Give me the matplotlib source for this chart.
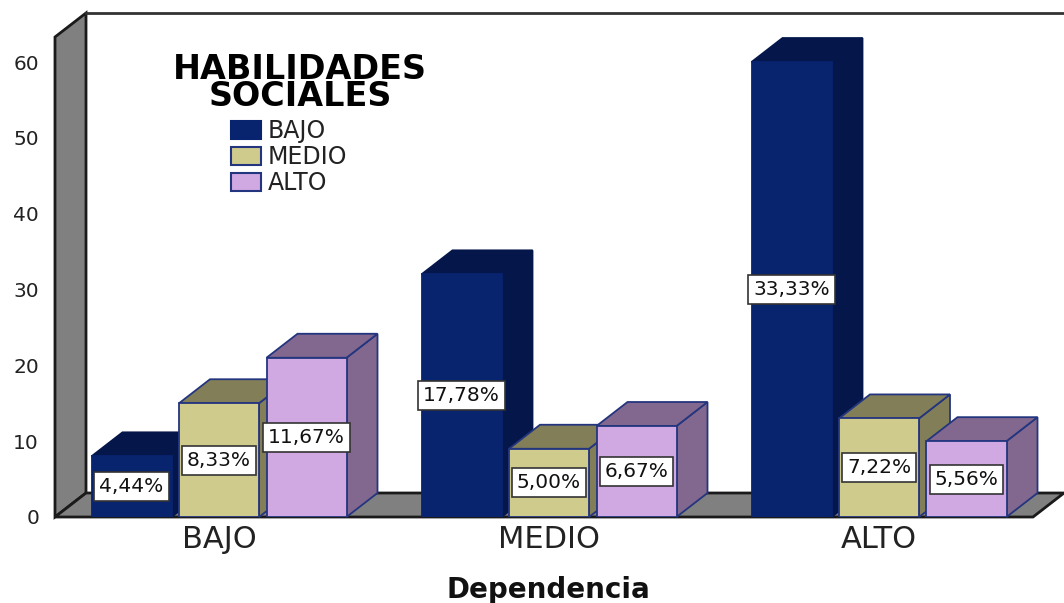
"""Recreate the SPSS style pseudo-3D clustered bar chart."""

import matplotlib
matplotlib.use("Agg")
import matplotlib.pyplot as plt
from matplotlib.patches import Patch, Polygon

# data
groups = ["BAJO", "MEDIO", "ALTO"]
series = ["BAJO", "MEDIO", "ALTO"]
bajo = [8, 32, 60]
medio = [15, 9, 13]
alto = [21, 12, 10]
bajo_pct = ["4,44%", "17,78%", "33,33%"]
medio_pct = ["8,33%", "5,00%", "7,22%"]
alto_pct = ["11,67%", "6,67%", "5,56%"]
yticks = [0, 10, 20, 30, 40, 50, 60]

FRONT = ["#08246E", "#CFCB8D", "#D0A9E3"]
SIDE = ["#05174A", "#827F58", "#82688E"]
EDGE = ["#08246E", "#24357F", "#24357F"]
SIDE_EDGE = ["#05174A", "#24357F", "#24357F"]
WALL = "#808080"

W, H = 1064, 603
X_UNIT = 330.0  # px per group
Y_UNIT = 7.583  # px per count
DX = 31 / X_UNIT
DY = 24 / Y_UNIT
BAR_W = 80 / X_UNIT
BAR_STEP = 87.5 / X_UNIT

fig = plt.figure(figsize=(W / 100, H / 100), dpi=100, facecolor="white")
ax = fig.add_axes([55 / W, (H - 517) / H, (1033 - 55) / W, (517 - 37) / H])
ax.set_xlim((55 - 219) / X_UNIT, (1033 - 219) / X_UNIT)
ax.set_ylim(0, 480 / Y_UNIT)
for s in ax.spines.values():
    s.set_visible(False)
ax.patch.set_visible(False)

# walls and floor
x0, x1 = ax.get_xlim()
top = ax.get_ylim()[1]
ax.add_patch(Polygon([(x0, 0), (x0 + DX, DY), (x0 + DX, top + DY), (x0, top)],
                     fc=WALL, ec="#1a1a1a", lw=2, clip_on=False, zorder=1))
ax.add_patch(Polygon([(x0, 0), (x0 + DX, DY), (x1 + DX, DY), (x1, 0)],
                     fc=WALL, ec="#1a1a1a", lw=2, clip_on=False, zorder=1))
ax.plot([x0 + DX, x1 + DX], [top + DY, top + DY], color="#333333", lw=2,
        clip_on=False, zorder=1)

# bars, left to right so later ones overlap
values = [bajo, medio, alto]
labels = [bajo_pct, medio_pct, alto_pct]
z = 2
text_items = []
for g in range(len(groups)):
    for i in range(len(series)):
        v = values[i][g]
        xc = g + (i - 1) * BAR_STEP
        xl, xr = xc - BAR_W / 2, xc + BAR_W / 2
        ax.add_patch(Polygon([(xr, 0), (xr + DX, DY), (xr + DX, v + DY), (xr, v)],
                             fc=SIDE[i], ec=SIDE_EDGE[i], lw=1.3, zorder=z, clip_on=False))
        ax.add_patch(Polygon([(xl, v), (xl + DX, v + DY), (xr + DX, v + DY), (xr, v)],
                             fc=SIDE[i], ec=SIDE_EDGE[i], lw=1.3, zorder=z, clip_on=False))
        ax.bar(xc, v, width=BAR_W, color=FRONT[i], edgecolor=EDGE[i], linewidth=1.3,
               zorder=z + 0.5)
        z += 1
        text_items.append((xc, v / 2, labels[i][g]))

for xc, yc, t in text_items:
    ax.text(xc, yc, t, ha="center", va="center", fontsize=14.5, color="#111111",
            bbox=dict(boxstyle="square,pad=0.25", fc="white", ec="#333333", lw=1.2),
            zorder=50)

ax.set_yticks(yticks)
ax.set_yticklabels([str(t) for t in yticks], fontsize=14.5, color="#222222")
ax.set_xticks(range(len(groups)))
ax.set_xticklabels(groups, fontsize=22, color="#222222")
ax.tick_params(axis="both", length=0)
ax.tick_params(axis="y", pad=11.5)
ax.tick_params(axis="x", pad=6)
fig.text(548 / W, 1 - 590 / H, "Dependencia", ha="center", va="center",
         fontsize=20, fontweight="bold", color="#111111")

# legend title kept apart so the entries can sit off-centre under it
fig.text(300 / W, 1 - 83 / H, "HABILIDADES\nSOCIALES", ha="center", va="center",
         fontsize=24, fontweight="bold", color="#000000", linespacing=0.76,
         multialignment="center", zorder=60)
handles = [Patch(fc=FRONT[i], ec=EDGE[i], lw=1.5) for i in range(3)]
leg = ax.legend(handles, series, frameon=False, loc="upper left",
                bbox_to_anchor=(231 / W, 1 - 119 / H),
                bbox_transform=fig.transFigure, fontsize=17, labelcolor="#222222",
                handlelength=1.27, handleheight=0.8, handletextpad=0.3,
                labelspacing=0.08, borderaxespad=0, borderpad=0)
leg.set_zorder(60)

fig.savefig("out.png", dpi=100, facecolor="white")
